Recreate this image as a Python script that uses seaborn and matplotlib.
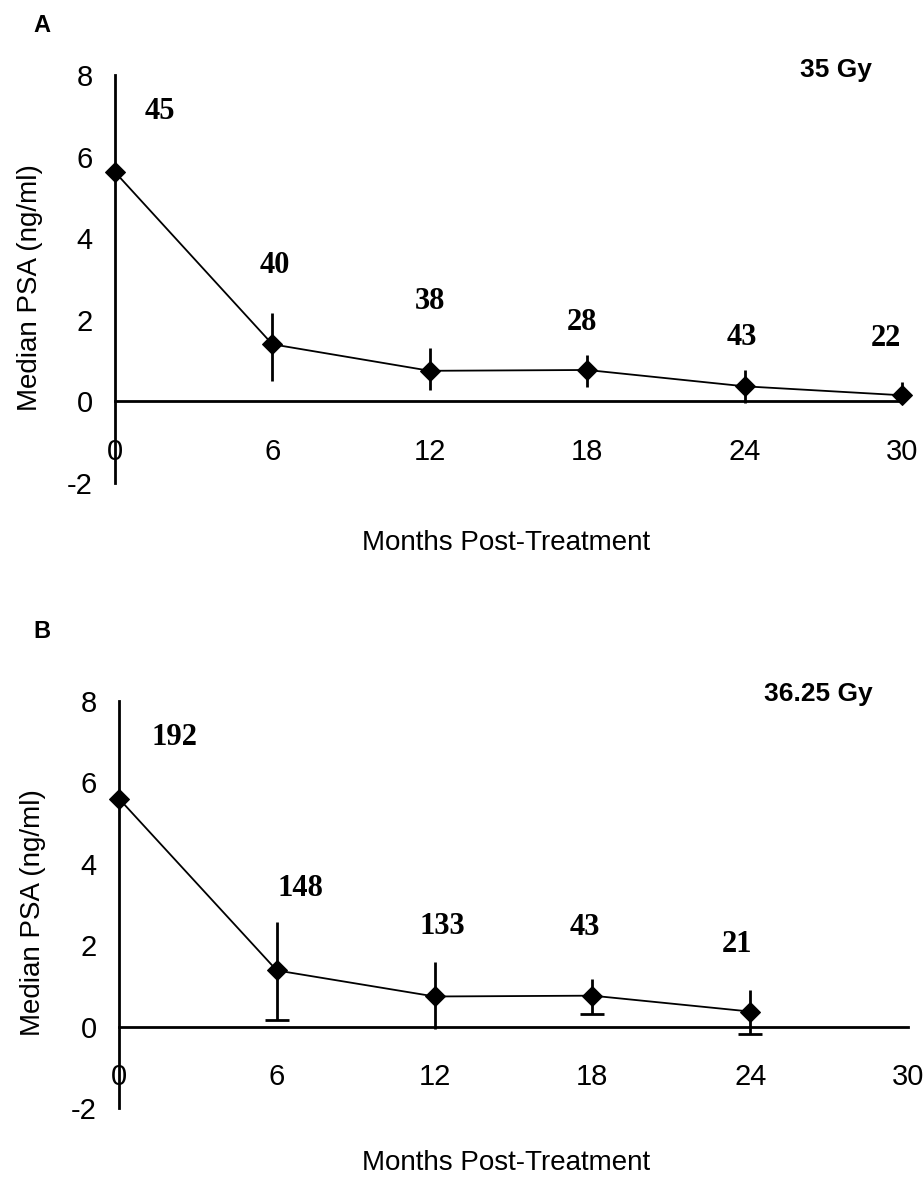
import numpy as np
import matplotlib
matplotlib.use("Agg")
import matplotlib.pyplot as plt
import seaborn as sns

# --- data ---
months_a = [0, 6, 12, 18, 24, 30]
psa_a = [5.62, 1.40, 0.75, 0.77, 0.37, 0.15]
hi_a = [np.nan, 2.16, 1.30, 1.14, 0.77, 0.47]
lo_a = [np.nan, 0.50, 0.27, 0.35, -0.05, -0.05]
n_a = ["45", "40", "38", "28", "43", "22"]

months_b = [0, 6, 12, 18, 24]
psa_b = [5.60, 1.38, 0.74, 0.76, 0.37]
hi_b = [np.nan, 2.56, 1.58, 1.18, 0.89]
lo_b = [np.nan, 0.17, -0.05, 0.32, -0.17]
capped_b = [False, True, False, True, True]
n_b = ["192", "148", "133", "43", "21"]

x_ticks = [0, 6, 12, 18, 24, 30]
y_ticks = [-2, 0, 2, 4, 6, 8]

# where the n labels sit (data coords)
pos_a = [(1.7, 7.1), (6.1, 3.33), (12.0, 2.46), (17.8, 1.94), (23.9, 1.57), (29.4, 1.54)]
pos_b = [(2.1, 7.1), (6.9, 3.4), (12.3, 2.46), (17.7, 2.44), (23.5, 2.02)]

sns.set_style("white")
plt.rcParams['font.family'] = ['Liberation Sans', 'DejaVu Sans']
plt.rcParams['axes.unicode_minus'] = False
for k in ('text.color', 'axes.labelcolor', 'xtick.color', 'ytick.color'):
    plt.rcParams[k] = 'black'

fig = plt.figure(figsize=(9.24, 11.78), dpi=100)
ax_a = fig.add_axes([115 / 924, 1 - 483 / 1178, 787 / 924, 408 / 1178])
ax_b = fig.add_axes([119 / 924, 1 - 1108 / 1178, 789 / 924, 407 / 1178])


def draw_panel(ax, months, psa, hi, lo, counts, pos, dose, dose_xy, capped=None):
    sns.lineplot(x=months, y=psa, ax=ax, color="black", lw=1.3,
                 marker="D", markersize=10, markeredgecolor="black", clip_on=False)
    psa = np.array(psa)
    up = np.array(hi) - psa
    dn = psa - np.array(lo)
    ok = ~np.isnan(up)
    ax.errorbar(np.array(months)[ok], psa[ok], yerr=[dn[ok], up[ok]],
                fmt="none", ecolor="black", elinewidth=2, capsize=0, clip_on=False)
    if capped is not None:
        cx = [m for m, c in zip(months, capped) if c]
        cy = [l for l, c in zip(lo, capped) if c]
        ax.plot(cx, cy, ls="none", marker="_", ms=17, mew=2, color="black", clip_on=False)

    for txt, (tx, ty) in zip(counts, pos):
        ax.text(tx, ty, txt, ha="center", va="center", fontsize=22,
                fontweight="bold", family="Liberation Serif")
    ax.text(dose_xy[0], dose_xy[1], dose, ha="center", va="center",
            fontsize=19, fontweight="bold")

    ax.set_xlim(0, 30)
    ax.set_ylim(-2, 8)
    ax.set_xticks(x_ticks)
    ax.set_yticks(y_ticks)
    ax.spines["top"].set_visible(False)
    ax.spines["right"].set_visible(False)
    ax.spines["bottom"].set_position(("data", 0))
    for s in ("left", "bottom"):
        ax.spines[s].set_linewidth(2)
        ax.spines[s].set_color("black")
    ax.tick_params(axis="x", direction="out", length=8, width=2, pad=18, labelsize=21)
    ax.tick_params(axis="y", direction="out", length=7, width=2, pad=9, labelsize=21)
    ax.set_xlabel("Months Post-Treatment", fontsize=20)
    ax.set_ylabel("Median PSA (ng/ml)", fontsize=20)
    ax.yaxis.set_label_coords(-0.092, 0.48)


draw_panel(ax_a, months_a, psa_a, hi_a, lo_a, n_a, pos_a, "35 Gy", (27.5, 8.13))
draw_panel(ax_b, months_b, psa_b, hi_b, lo_b, n_b, pos_b, "36.25 Gy", (26.6, 8.18), capped_b)
ax_a.xaxis.set_label_coords(0.497, -0.115)
ax_b.xaxis.set_label_coords(0.49, -0.103)

fig.text(42 / 924, 1 - 25 / 1178, "A", fontsize=17, fontweight="bold", ha="center", va="center")
fig.text(42 / 924, 1 - 632 / 1178, "B", fontsize=17, fontweight="bold", ha="center", va="center")

plt.savefig("out.png", dpi=100)
